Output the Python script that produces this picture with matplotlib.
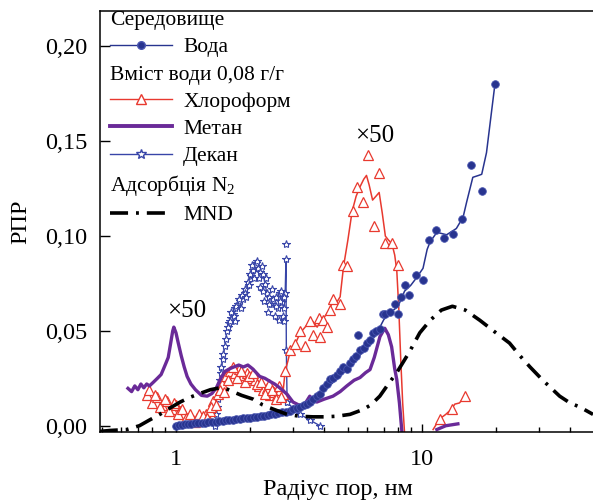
import matplotlib
matplotlib.use('Agg')
import matplotlib.pyplot as plt
from matplotlib.lines import Line2D
from matplotlib.ticker import FixedLocator, NullFormatter, FuncFormatter, LogLocator

plt.rcParams['font.family'] = ['Liberation Serif', 'DejaVu Serif']
plt.rcParams['mathtext.fontset'] = 'custom'
plt.rcParams['mathtext.rm'] = 'Liberation Serif'
plt.rcParams['mathtext.default'] = 'regular'

# water (Вода): smoothed line and measured points
water_line_r = [1.0, 1.5, 2.0, 2.64, 3.0, 3.4, 3.85, 4.2, 4.64, 5.0, 5.5, 6.0, 6.5, 7.0, 7.5, 8.0,
                8.5, 9.0, 9.5, 10.1, 10.5, 10.8, 11.5, 12.6, 13.8, 14.7, 15.2, 16.1, 17.0, 17.5,
                18.3, 19.2, 19.8]
water_line_v = [0.0, 0.002, 0.004, 0.006, 0.009, 0.0115, 0.016, 0.021, 0.026, 0.030, 0.036, 0.042,
                0.048, 0.056, 0.060, 0.063, 0.071, 0.074, 0.078, 0.083, 0.093, 0.097, 0.102, 0.1007,
                0.104, 0.110, 0.118, 0.131, 0.132, 0.1326, 0.144, 0.166, 0.180]
water_pts_r = [1.0, 1.03, 1.06, 1.09, 1.12, 1.15, 1.19, 1.23, 1.27, 1.31, 1.35, 1.4, 1.45, 1.5,
               1.55, 1.6, 1.65, 1.7, 1.76, 1.82, 1.88, 1.94, 2.0, 2.07, 2.14, 2.21, 2.28, 2.36,
               2.44, 2.52, 2.6, 2.7, 2.8, 2.9, 3.0, 3.1, 3.2, 3.3, 3.4, 3.5, 3.6, 3.74, 3.85, 3.96,
               4.1, 4.23, 4.35, 4.5, 4.65, 4.77, 4.95, 5.1, 5.24, 5.4, 5.5, 5.6, 5.8, 5.98, 6.15,
               6.3, 6.5, 6.74, 6.95, 7.07, 7.4, 7.77, 7.98, 8.2, 8.5, 8.9, 9.46, 10.1, 10.7, 11.4,
               12.3, 13.4, 14.6, 15.9, 17.6, 19.8]
water_pts_v = [0.0, 0.0003, 0.0006, 0.0008, 0.001, 0.001, 0.0012, 0.0014, 0.0015, 0.0017, 0.002,
               0.002, 0.0022, 0.0025, 0.0027, 0.003, 0.003, 0.0032, 0.0035, 0.0037, 0.004, 0.004,
               0.0042, 0.0045, 0.0048, 0.005, 0.0052, 0.0055, 0.006, 0.0062, 0.0065, 0.007, 0.0075,
               0.008, 0.0088, 0.0095, 0.010, 0.011, 0.0115, 0.0125, 0.014, 0.0156, 0.017, 0.020,
               0.022, 0.0244, 0.025, 0.027, 0.029, 0.031, 0.030, 0.033, 0.035, 0.037, 0.048, 0.040,
               0.041, 0.0436, 0.045, 0.049, 0.050, 0.051, 0.059, 0.059, 0.060, 0.064, 0.059, 0.068,
               0.074, 0.069, 0.0795, 0.077, 0.098, 0.103, 0.099, 0.101, 0.109, 0.1377, 0.1236, 0.180]

# chloroform (Хлороформ)
chl_line_r = [0.76, 0.80, 0.84, 0.88, 0.92, 0.96, 1.0, 1.04, 1.08, 1.12, 1.17, 1.22, 1.27, 1.32,
              1.37, 1.42, 1.48, 1.54, 1.60, 1.66, 1.73, 1.80, 1.87, 1.94, 2.02, 2.1, 2.18, 2.26,
              2.34, 2.41, 2.5, 2.57, 2.65, 2.72, 2.78, 2.85, 2.92, 3.0, 3.1, 3.2, 3.3, 3.45, 3.6,
              3.75, 3.9, 4.05, 4.2, 4.35, 4.5, 4.65, 4.8, 5.0, 5.2, 5.4, 5.6, 5.8, 5.95, 6.1, 6.3,
              6.5, 6.7, 6.9, 7.1, 7.3, 7.55, 7.75, 7.9, 8.05, 8.2, 8.35, 8.5]
chl_line_v = [0.016, 0.012, 0.015, 0.011, 0.013, 0.009, 0.011, 0.008, 0.006, 0.004, 0.003, 0.004,
              0.003, 0.006, 0.008, 0.013, 0.017, 0.022, 0.026, 0.029, 0.028, 0.030, 0.027, 0.028,
              0.025, 0.024, 0.021, 0.019, 0.020, 0.016, 0.018, 0.016, 0.019, 0.017, 0.029, 0.034,
              0.040, 0.042, 0.045, 0.049, 0.051, 0.054, 0.055, 0.052, 0.056, 0.058, 0.061, 0.066,
              0.065, 0.068, 0.084, 0.098, 0.113, 0.121, 0.126, 0.130, 0.132, 0.127, 0.119, 0.121,
              0.123, 0.112, 0.100, 0.098, 0.096, 0.090, 0.082, 0.062, 0.035, 0.012, -0.004]
chl_pts_r = [0.76, 0.80, 0.84, 0.88, 0.92, 0.96, 1.0, 1.04, 1.08, 1.12, 1.17, 1.22, 1.27, 1.32,
             1.37, 1.42, 1.48, 1.54, 1.60, 1.66, 1.73, 1.80, 1.87, 1.94, 2.02, 2.1, 2.18, 2.26,
             2.34, 2.41, 2.5, 2.57, 2.65, 2.72, 2.78, 2.9, 3.05, 3.2, 3.35, 3.5, 3.62, 3.8, 3.85,
             3.96, 4.1, 4.23, 4.35, 4.64, 4.76, 4.95, 5.23, 5.45, 5.74, 6.03, 6.36, 6.7, 7.06,
             7.53, 7.98,
             0.78, 0.82, 0.86, 0.90, 0.94, 0.98, 1.02, 1.06, 1.10, 1.14, 1.19, 1.24, 1.29, 1.34,
             1.39, 1.45, 1.51, 1.57, 1.63, 1.70, 1.77, 1.84, 1.90, 1.98, 2.06, 2.14, 2.22, 2.30,
             2.38, 2.46, 2.54, 2.62, 2.68]
chl_pts_v = [0.016, 0.012, 0.015, 0.011, 0.013, 0.009, 0.011, 0.008, 0.006, 0.004, 0.003, 0.004,
             0.003, 0.006, 0.008, 0.013, 0.017, 0.022, 0.026, 0.029, 0.028, 0.030, 0.027, 0.028,
             0.025, 0.024, 0.021, 0.019, 0.020, 0.016, 0.018, 0.016, 0.019, 0.017, 0.029, 0.040,
             0.043, 0.050, 0.042, 0.055, 0.048, 0.057, 0.047, 0.0556, 0.052, 0.061, 0.067, 0.064,
             0.085, 0.084, 0.113, 0.126, 0.118, 0.143, 0.1055, 0.1335, 0.0966, 0.0966, 0.085,
             0.019, 0.016, 0.010, 0.014, 0.008, 0.012, 0.006, 0.009, 0.004, 0.006, 0.002, 0.006,
             0.005, 0.004, 0.010, 0.011, 0.019, 0.018, 0.024, 0.031, 0.025, 0.029, 0.023, 0.026,
             0.028, 0.022, 0.023, 0.017, 0.022, 0.019, 0.014, 0.021, 0.015]
chl_tail_r = [11.1, 11.8, 12.5, 13.2, 13.6, 14.2, 15.0]
chl_tail_v = [-0.002, 0.0036, 0.006, 0.0088, 0.0114, 0.012, 0.0156]
chl_tail_pts_r = [11.8, 13.2, 15.0]
chl_tail_pts_v = [0.0036, 0.0088, 0.0156]

# methane (Метан)
met_r = [0.638, 0.66, 0.68, 0.70, 0.72, 0.74, 0.76, 0.78, 0.81, 0.84, 0.87, 0.89, 0.91, 0.93,
         0.95, 0.97, 0.98, 1.0, 1.02, 1.05, 1.08, 1.11, 1.15, 1.2, 1.27, 1.34, 1.40, 1.46, 1.52,
         1.58, 1.65, 1.72, 1.80, 1.88, 1.96, 2.05, 2.19, 2.3, 2.41, 2.52, 2.64, 2.75, 2.83, 2.99,
         3.15, 3.28, 3.4, 3.5, 3.62, 3.74, 4.0, 4.35, 4.65, 4.95, 5.3, 5.6, 5.9, 6.15, 6.4,
         6.75, 7.06, 7.3, 7.53, 7.75, 7.9, 8.1, 8.3]
met_v = [0.0197, 0.018, 0.021, 0.019, 0.022, 0.020, 0.022, 0.021, 0.023, 0.025, 0.027, 0.030,
         0.033, 0.036, 0.043, 0.050, 0.052, 0.049, 0.044, 0.037, 0.031, 0.026, 0.022, 0.019,
         0.016, 0.0156, 0.017, 0.020, 0.025, 0.0286, 0.030, 0.031, 0.032, 0.031, 0.032, 0.030,
         0.026, 0.025, 0.0234, 0.022, 0.020, 0.018, 0.0166, 0.0125, 0.011, 0.0104, 0.013, 0.0156,
         0.013, 0.0125, 0.014, 0.0156, 0.018, 0.021, 0.024, 0.0254, 0.028, 0.0296, 0.036, 0.047,
         0.0514, 0.048, 0.0416, 0.030, 0.0244, 0.012, -0.004]
met_tail_r = [11.5, 12.5, 14.0]
met_tail_v = [-0.002, 0.0, 0.001]

# decane (Декан)
dec_r = [1.44, 1.46, 1.48, 1.50, 1.52, 1.55, 1.58, 1.61, 1.64, 1.67, 1.70, 1.74, 1.78, 1.82,
         1.87, 1.91, 1.96, 2.01, 2.06, 2.10, 2.15, 2.20, 2.26, 2.30, 2.34, 2.40, 2.48, 2.56,
         2.64, 2.70, 2.74, 2.78, 2.80, 2.81, 2.83, 3.0, 3.2, 3.5, 3.85]
dec_v = [0.0, 0.006, 0.014, 0.020, 0.028, 0.035, 0.042, 0.050, 0.054, 0.057, 0.059, 0.062, 0.064,
         0.066, 0.067, 0.072, 0.076, 0.079, 0.082, 0.084, 0.083, 0.081, 0.080, 0.075, 0.070,
         0.068, 0.067, 0.068, 0.070, 0.065, 0.062, 0.070, 0.088, 0.040, 0.0125, 0.009, 0.006,
         0.003, 0.0]
dec_pts_r = [1.47, 1.53, 1.60, 1.66, 1.72, 1.76, 1.84, 1.90, 1.98, 2.04, 2.12, 2.18, 2.24, 2.28,
             2.36, 2.44, 2.52, 2.60, 2.66, 2.72, 2.76, 2.80, 2.83,
             1.49, 1.51, 1.56, 1.62, 1.68, 1.73, 1.80, 1.86, 1.93, 2.00, 2.08, 2.14, 2.20, 2.26,
             2.32, 2.38, 2.46, 2.54, 2.62, 2.68, 2.74]
dec_pts_v = [0.010, 0.031, 0.046, 0.055, 0.058, 0.063, 0.062, 0.070, 0.074, 0.085, 0.086, 0.078,
             0.084, 0.066, 0.060, 0.064, 0.058, 0.062, 0.066, 0.058, 0.068, 0.096, 0.0125,
             0.016, 0.024, 0.038, 0.052, 0.060, 0.055, 0.067, 0.069, 0.068, 0.080, 0.078, 0.087,
             0.073, 0.071, 0.078, 0.064, 0.072, 0.063, 0.056, 0.071, 0.055]

# N2 adsorption (MND)
mnd_r = [0.49, 0.54, 0.63, 0.71, 0.78, 0.86, 0.95, 1.04, 1.14, 1.25, 1.38, 1.51, 1.6, 1.7, 1.85,
         2.06, 2.25, 2.48, 2.83, 3.19, 3.6, 4.0, 4.5, 5.1, 5.75, 6.2, 6.74, 7.3, 7.9, 8.9, 9.8,
         10.8, 12.0, 13.3, 15.0, 17.2, 20.0, 22.7, 25.0, 27.5, 31.0, 36.3, 40.0, 43.8, 49.6]
mnd_v = [-0.003, -0.0025, -0.002, 0.0, 0.003, 0.006, 0.0095, 0.0125, 0.015, 0.017, 0.019, 0.020,
         0.0195, 0.018, 0.016, 0.014, 0.011, 0.0088, 0.006, 0.005, 0.0047, 0.0047, 0.005, 0.006,
         0.0085, 0.011, 0.0156, 0.022, 0.028, 0.039, 0.049, 0.0556, 0.061, 0.063, 0.061, 0.0556,
         0.049, 0.0436, 0.037, 0.031, 0.024, 0.0156, 0.012, 0.0099, 0.006]

y_ticks = [0.0, 0.05, 0.10, 0.15, 0.20]
x_ticks = [1, 10]

c_water = '#28348f'
c_dec = '#3845a8'
c_chl = '#e8392f'
c_met = '#6a2a98'

fig = plt.figure(figsize=(5.93, 5.01), dpi=100)
ax = fig.add_axes([100 / 593, 69 / 501, 493 / 593, 421 / 501])

ax.plot(dec_r, dec_v, color=c_dec, lw=1.0, marker='*', ms=6, mfc='white', mec=c_dec, mew=0.8)
ax.plot(dec_pts_r, dec_pts_v, ls='none', marker='*', ms=6, mfc='white', mec=c_dec, mew=0.8)
ax.plot(chl_line_r, chl_line_v, color=c_chl, lw=1.1)
ax.plot(chl_pts_r, chl_pts_v, ls='none', marker='^', ms=7, mfc='white', mec=c_chl, mew=0.9)
ax.plot(chl_tail_r, chl_tail_v, color=c_chl, lw=1.1)
ax.plot(chl_tail_pts_r, chl_tail_pts_v, ls='none', marker='^', ms=7, mfc='white', mec=c_chl, mew=0.9)
ax.plot(met_r, met_v, color=c_met, lw=2.4)
ax.plot(met_tail_r, met_tail_v, color=c_met, lw=2.4)
ax.plot(water_line_r, water_line_v, color=c_water, lw=1.1)
ax.plot(water_pts_r, water_pts_v, ls='none', marker='o', ms=5.5, color=c_water, mec='#4a56b0', mew=0.6)
ax.plot(mnd_r, mnd_v, color='black', lw=2.6, dashes=(5, 2.2, 0.8, 2.2))

ax.text(1.1, 0.0605, '×50', ha='center', va='center', fontsize=18)
ax.text(6.4, 0.153, '×50', ha='center', va='center', fontsize=18)

ax.set_xscale('log')
ax.set_xlim(0.491, 49.6)
ax.set_ylim(-0.0033, 0.2187)
ax.xaxis.set_major_locator(FixedLocator(x_ticks))
ax.xaxis.set_major_formatter(FuncFormatter(lambda v, p: '%d' % v))
ax.xaxis.set_minor_locator(LogLocator(base=10, subs=range(2, 10)))
ax.xaxis.set_minor_formatter(NullFormatter())
ax.yaxis.set_major_locator(FixedLocator(y_ticks))
ax.yaxis.set_major_formatter(FuncFormatter(lambda v, p: ('%.2f' % v).replace('.', ',')))
ax.tick_params(axis='y', which='major', direction='in', length=7, width=1.0, pad=9, labelsize=17.5)
ax.tick_params(axis='x', which='major', direction='in', length=6, width=1.0, pad=12, labelsize=17.5)
ax.tick_params(axis='x', which='minor', direction='in', length=3.5, width=1.0)
ax.spines['right'].set_visible(False)
for s in ['left', 'bottom', 'top']:
    ax.spines[s].set_linewidth(1.1)

ax.set_xlabel('Радіус пор, нм', fontsize=17.5)
ax.xaxis.set_label_coords(0.483, -0.112)
ax.set_ylabel('РПР', fontsize=17.5, labelpad=10)

blank = Line2D([], [], color='none')
handles = [
    blank,
    Line2D([], [], color=c_water, lw=1.0, marker='o', ms=5.5, mec='#4a56b0'),
    blank,
    Line2D([], [], color=c_chl, lw=1.0, marker='^', ms=7, mfc='white', mec=c_chl),
    Line2D([], [], color=c_met, lw=2.8),
    Line2D([], [], color=c_dec, lw=1.0, marker='*', ms=7, mfc='white', mec=c_dec),
    blank,
    Line2D([], [], color='black', lw=2.6, dashes=(5, 2.2, 0.8, 2.2)),
]
labels = ['Середовище', 'Вода', 'Вміст води 0,08 г/г', 'Хлороформ', 'Метан', 'Декан',
          'Адсорбція N$_2$', 'MND']
leg = ax.legend(handles, labels, loc='upper left', bbox_to_anchor=(0.02, 1.002), frameon=False,
                fontsize=15.5, handlelength=2.9, handletextpad=0.5, labelspacing=0.33,
                borderpad=0, borderaxespad=0, numpoints=1)
# header rows: no handle, text starts at the left edge
rows = leg._legend_handle_box.get_children()[0].get_children()
for i in (0, 2, 6):
    rows[i].get_children()[0].width = 0
    rows[i].sep = 0

fig.savefig('out.png', dpi=100)
